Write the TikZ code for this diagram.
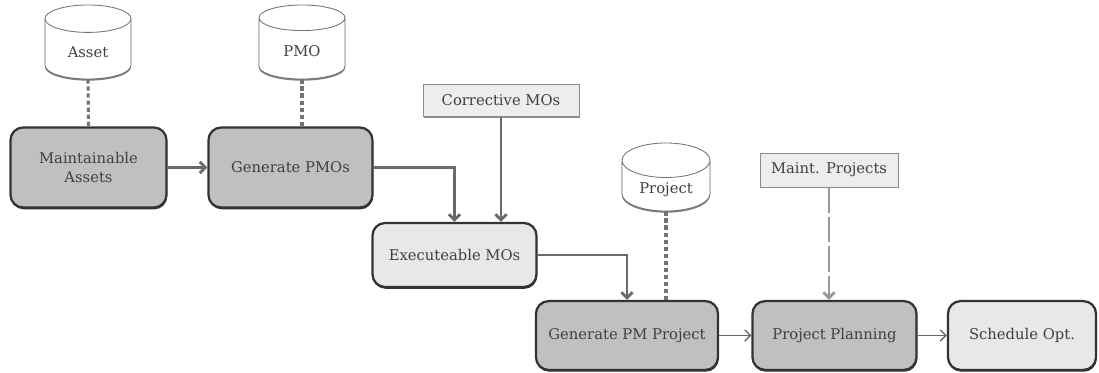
\documentclass[tikz,border=0pt]{standalone}
\usepackage{fontspec}
\setmainfont{DejaVu Serif}
\usepackage{tikz}
\usetikzlibrary{positioning, arrows.meta, calc, shapes.geometric, shadows}

\definecolor{boxdark}{HTML}{C0C0C0}
\definecolor{boxlight}{HTML}{E8E8E8}
\definecolor{edge}{HTML}{333333}
\definecolor{wire}{HTML}{6A6A6A}
\definecolor{txt}{HTML}{404040}

\begin{document}
\begin{tikzpicture}[x=0.025cm, y=-0.025cm, >={Straight Barb[length=4pt, width=8pt]},
      font=\fontsize{10.5}{13}\selectfont, text=txt,
      task/.style={draw=edge, line width=1.6pt, rounded corners=9pt, fill=boxdark, align=center,
        drop shadow={shadow xshift=0.4pt, shadow yshift=-1.3pt, fill=black!80, opacity=1}},
      lighttask/.style={task, fill=boxlight},
      store/.style={shape=cylinder, shape border rotate=90, aspect=0.55, anchor=shape center,
        draw=black!55, line width=0.6pt, fill=white,
        drop shadow={shadow xshift=0pt, shadow yshift=-1.2pt, fill=black!50, opacity=1}},
      feed/.style={draw=black!45, line width=0.6pt, fill=black!7,
        drop shadow={shadow xshift=1pt, shadow yshift=-1pt, fill=black!45, opacity=1}},
      flow/.style={draw=wire, line width=2pt, ->},
      thinflow/.style={draw=wire, line width=1pt, ->},
      link/.style={draw=black!55, line width=2.2pt, dash pattern=on 3pt off 2pt},
      loose/.style={draw=black!40, line width=2pt, dash pattern=on 18pt off 3pt, ->}]
    \useasboundingbox (0,0) rectangle (1099,373);
    \node[store, minimum width=2.15cm, minimum height=1.85cm] (asset) at (88,42) {Asset};
    \node[store, minimum width=2.15cm, minimum height=1.85cm] (pmo) at (302,42) {PMO};
    \node[task, minimum width=3.9cm, minimum height=2cm] (maint) at (88.5,167.5) {Maintainable\\Assets};
    \node[task, minimum width=4.1cm, minimum height=2cm] (genpmo) at (290.5,167.5) {Generate PMOs};
    \node[feed, minimum width=3.9cm, minimum height=0.82cm] (corr) at (501,100.5) {Corrective MOs};
    \node[lighttask, minimum width=4.1cm, minimum height=1.6cm] (exec) at (454.5,255) {Executeable MOs};
    \node[store, minimum width=2.2cm, minimum height=1.7cm] (proj) at (666,177) {Project};
    \node[feed, minimum width=3.45cm, minimum height=0.85cm] (mproj) at (829,170) {Maint. Projects};
    \node[task, minimum width=4.55cm, minimum height=1.72cm] (genpm) at (627,335.5) {Generate PM Project};
    \node[task, minimum width=4.1cm, minimum height=1.72cm] (plan) at (834.5,335.5) {Project Planning};
    \node[lighttask, minimum width=3.7cm, minimum height=1.72cm] (sched) at (1022,335.5) {Schedule Opt.};
    \draw[link] (asset.south) -- (maint.north);
    \draw[link] (pmo.south) -- (pmo.south |- genpmo.north);
    \draw[flow] (maint.east) -- (genpmo.west);
    \draw[flow] (genpmo.east) -| (exec.north);
    \draw[flow] (corr.south) -- (corr.south |- exec.north);
    \draw[flow] (exec.east) -| (genpm.north);
    \draw[link] (proj.south) -- (proj.south |- genpm.north);
    \draw[loose] (mproj.south) -- (mproj.south |- plan.north);
    \draw[thinflow] (genpm.east) -- (plan.west);
    \draw[thinflow] (plan.east) -- (sched.west);
  \end{tikzpicture}
\end{document}
